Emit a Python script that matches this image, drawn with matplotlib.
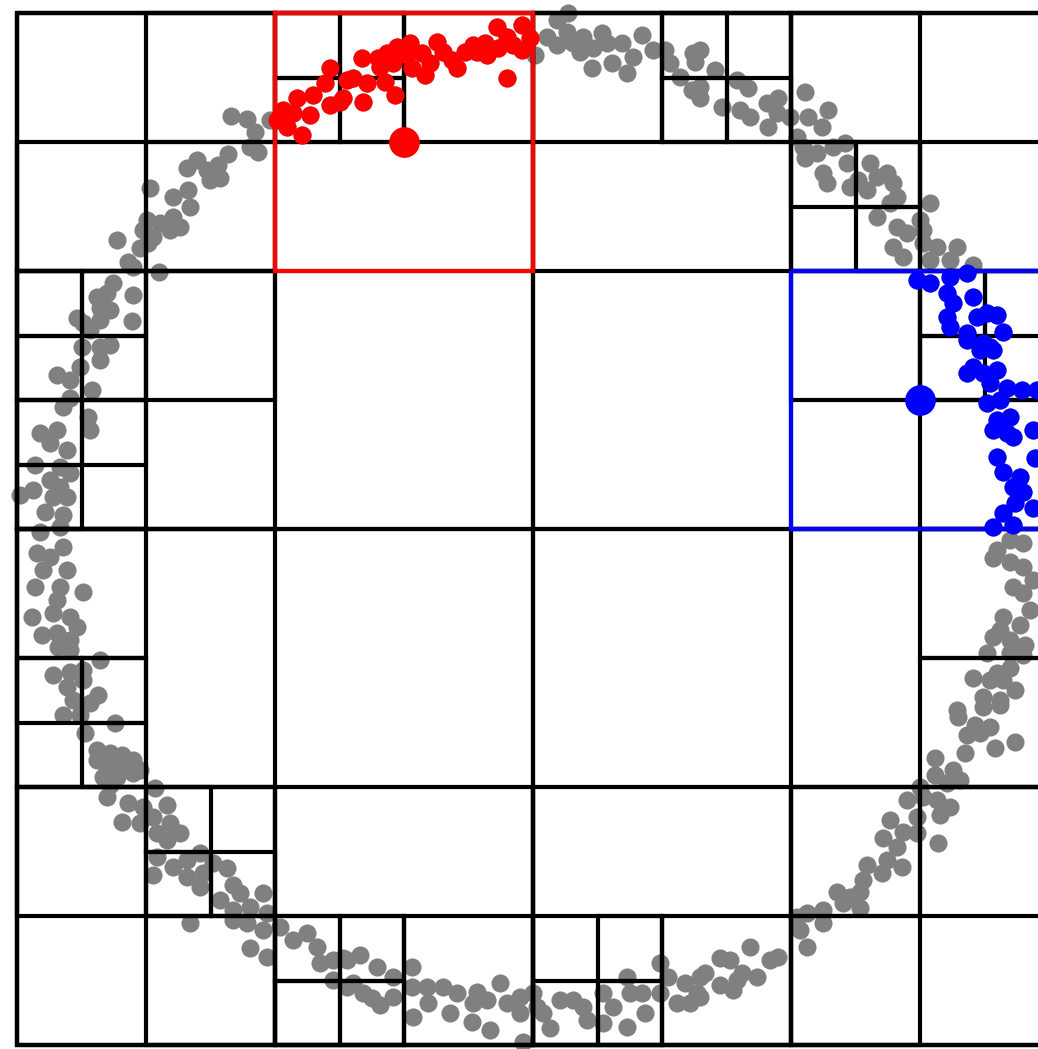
import numpy as np
import matplotlib
matplotlib.use("Agg")
import matplotlib.pyplot as plt
from matplotlib.patches import Rectangle

# side of the root square of the quadtree (y counted downwards from the top)
SIZE = 1032

# quadtree nodes that hold at least one point, as (column, row) per level
nodes_l0 = [(0, 0)]
nodes_l1 = [(0, 0), (1, 0), (0, 1), (1, 1)]
nodes_l2 = [(0, 0), (1, 0), (2, 0), (3, 0),
            (0, 1), (3, 1),
            (0, 2), (3, 2),
            (0, 3), (1, 3), (2, 3), (3, 3)]
nodes_l3 = [(1, 0), (0, 1), (1, 1),
            (2, 0), (3, 0),
            (4, 0), (5, 0),
            (6, 0), (6, 1), (7, 1),
            (0, 2), (1, 2), (0, 3),
            (6, 2), (7, 2), (7, 3),
            (0, 4), (0, 5),
            (7, 4), (7, 5),
            (0, 6), (1, 6), (1, 7),
            (2, 7), (3, 7),
            (4, 7), (5, 7),
            (6, 6), (7, 6), (6, 7)]
nodes_l4 = [(4, 0), (5, 0), (4, 1), (5, 1),
            (10, 0), (10, 1), (11, 1),
            (12, 2), (13, 2), (13, 3),
            (0, 4), (1, 4), (0, 5), (1, 5),
            (0, 6), (1, 6), (0, 7),
            (14, 4), (15, 4), (14, 5),
            (0, 10), (1, 10), (1, 11),
            (2, 12), (2, 13), (3, 13),
            (4, 14), (5, 14), (4, 15), (5, 15),
            (9, 14), (8, 15), (9, 15)]
levels = [nodes_l0, nodes_l1, nodes_l2, nodes_l3, nodes_l4]

# range queries: centre points and half width of the square window
query_centers = [(387, 129), (903, 387)]
query_colors = ["red", "blue"]
query_half = 129

# points along the noisy ring
arc_top_left = [
    (214, 103), (230, 106), (253, 107), (238, 119), (233, 134), (241, 139), (211, 141), (201, 152),
    (193, 167), (203, 165), (180, 147), (170, 155), (190, 157), (133, 175), (156, 184), (171, 177),
    (173, 194), (156, 204), (153, 217), (163, 214), (143, 210), (130, 207), (126, 217), (136, 224),
    (131, 230), (123, 235), (100, 227), (111, 249), (116, 254), (142, 259), (96, 270), (90, 280),
    (80, 284), (83, 295), (93, 297), (116, 282), (115, 308), (60, 305), (66, 310), (73, 317),
    (83, 307), (65, 334), (83, 334), (93, 332),
    (313, 55), (330, 67), (308, 70), (296, 82), (280, 85), (266, 97), (260, 107), (270, 114),
    (285, 122), (293, 102), (313, 92), (323, 89), (276, 100), (263, 104),
    (345, 45), (361, 45), (370, 40), (380, 34), (393, 30), (390, 42), (405, 40), (413, 50),
    (408, 62), (395, 55), (376, 50), (363, 54), (420, 29), (426, 39), (440, 55), (435, 47),
    (448, 39), (460, 39), (468, 30), (480, 14), (481, 35), (490, 24), (496, 32), (505, 12),
    (505, 37), (513, 25), (490, 65), (336, 65), (350, 70), (368, 69), (378, 82), (346, 89),
    (326, 85), (456, 32), (470, 42),
]
arc_top_right = [
    (551, 0), (540, 7), (530, 24), (518, 42), (540, 32), (550, 19), (556, 30), (566, 24),
    (563, 39), (576, 35), (585, 20), (590, 30), (605, 30), (575, 55), (595, 50), (610, 60),
    (616, 44), (625, 22), (636, 37), (648, 37), (653, 50), (663, 64), (675, 77), (676, 40),
    (683, 37), (678, 49), (698, 57), (683, 74), (683, 85), (705, 94), (720, 67), (731, 75),
    (723, 97), (733, 104), (750, 90), (761, 85), (751, 114), (760, 100), (773, 104), (788, 79),
    (791, 104), (811, 97), (805, 114), (780, 124), (786, 134), (788, 145), (800, 140), (806, 160),
    (810, 170), (816, 134), (828, 130), (830, 150), (833, 174), (841, 167), (853, 150), (860, 164),
    (870, 160), (876, 170), (880, 184), (873, 190), (860, 204), (850, 177), (913, 190), (880, 214),
    (890, 220), (876, 234), (886, 244), (906, 230), (920, 234), (940, 234), (933, 247), (956, 252),
    (913, 247), (903, 207), (906, 217),
]
arc_right = [
    (900, 267), (913, 270), (950, 260), (933, 264), (930, 280), (936, 290), (956, 284), (930, 304),
    (933, 314), (950, 320), (960, 304), (970, 300), (980, 302), (986, 319), (966, 330), (973, 334),
    (950, 327), (963, 337), (976, 337), (956, 354), (950, 360), (966, 360), (980, 357), (973, 370),
    (990, 375), (1005, 377), (1020, 377), (970, 390), (983, 387), (980, 407), (993, 404), (990, 420),
    (976, 417), (996, 424), (1016, 417), (980, 444), (1018, 445), (986, 459), (1003, 464), (996, 474),
    (1006, 479), (998, 490), (1016, 495), (986, 500), (976, 514), (996, 512),
    (993, 527), (1006, 530), (980, 537), (976, 545), (993, 549), (1006, 554), (1016, 567), (996, 574),
    (1006, 580), (986, 604), (983, 617), (993, 627), (976, 624), (993, 640), (970, 640), (1006, 642),
    (993, 655), (980, 660), (956, 665), (973, 667), (986, 667), (966, 684), (983, 687), (940, 697),
    (1013, 597), (1003, 612), (1008, 632), (998, 677),
]
arc_bottom_right = [
    (966, 694), (983, 692), (941, 704), (958, 712), (973, 714), (950, 722), (963, 720), (998, 729),
    (978, 735), (948, 740), (918, 745), (936, 757), (918, 762), (943, 767), (930, 770), (903, 774),
    (890, 787), (906, 784), (920, 787), (933, 794), (923, 802), (900, 804), (873, 807), (886, 819),
    (866, 825), (900, 820), (921, 830), (880, 834), (870, 847), (850, 852), (865, 860), (885, 854),
    (846, 867), (843, 879), (820, 879), (833, 884), (826, 890), (843, 895), (806, 897), (790, 900),
    (780, 904), (783, 917), (806, 910), (790, 934), (761, 944), (753, 947), (733, 934), (740, 964),
    (725, 960), (713, 947), (703, 945), (720, 967), (716, 977), (703, 972), (688, 960), (680, 980),
    (673, 990),
]
arc_bottom = [
    (326, 945), (343, 942), (360, 954), (336, 970), (346, 980), (363, 992), (355, 985), (376, 964),
    (376, 984), (395, 954), (395, 974), (396, 1004), (411, 990), (410, 974), (426, 974), (433, 1000),
    (440, 980), (455, 1009), (460, 979), (456, 990), (470, 987), (473, 1017), (483, 970), (490, 990),
    (503, 984), (503, 1000), (506, 1029), (516, 980), (520, 994), (526, 1000), (533, 1015), (543, 987),
    (556, 987), (570, 1007), (566, 994), (586, 980), (596, 994), (586, 1010), (610, 964), (613, 980),
    (610, 1014), (625, 980), (628, 1000), (643, 950), (651, 964), (643, 980), (660, 990), (668, 970),
    (683, 964), (683, 984),
]
arc_bottom_left = [
    (56, 687), (73, 690), (46, 702), (63, 702), (68, 720), (98, 710), (80, 737), (93, 740),
    (105, 742), (116, 747), (80, 747), (90, 754), (103, 754), (116, 760), (123, 757), (86, 764),
    (100, 764), (93, 772), (138, 775), (90, 784), (111, 790), (150, 792), (126, 794), (105, 809),
    (123, 810), (136, 804), (153, 810), (163, 820), (140, 820), (150, 827), (140, 844), (136, 862),
    (156, 854), (170, 847), (183, 840), (170, 864), (183, 874), (196, 850), (210, 855), (186, 860),
    (216, 872), (223, 880), (246, 880), (203, 887), (216, 897), (233, 894), (250, 900), (216, 907),
    (230, 910), (173, 910), (233, 935), (250, 944), (246, 917), (263, 914), (276, 927), (290, 920),
    (300, 934), (303, 950), (316, 947), (330, 947), (316, 967), (330, 974),
]
arc_left = [
    (83, 347), (63, 354), (40, 362), (53, 367), (75, 377), (53, 385), (46, 394), (71, 404),
    (73, 417), (23, 420), (40, 417), (33, 430), (50, 437), (18, 452), (43, 454), (53, 460),
    (33, 467), (3, 482), (16, 477), (43, 474), (50, 484), (28, 499), (46, 502), (36, 484),
    (23, 519), (43, 514), (46, 534), (20, 540), (33, 544), (26, 557), (50, 557), (18, 574),
    (43, 574), (66, 579), (40, 587), (36, 600), (53, 604), (15, 604), (60, 614), (25, 622),
    (40, 620), (53, 627), (41, 634), (53, 637), (83, 647), (36, 662), (53, 659), (66, 657),
    (50, 674), (66, 667), (81, 682),
]

pts = np.array(arc_top_left + arc_top_right + arc_right + arc_bottom_right
               + arc_bottom + arc_bottom_left + arc_left, dtype=float)

fig = plt.figure(figsize=(10.38, 10.49), dpi=100)
ax = fig.add_axes([0, 0, 1, 1])

# all points in grey first, the found ones get recoloured on top
ax.scatter(pts[:, 0], pts[:, 1], s=170, color="gray", linewidths=0, zorder=1)

# quadtree cells
for level, cells in enumerate(levels):
    side = SIZE / 2 ** level
    for col, row in cells:
        ax.add_patch(Rectangle((col * side, row * side), side, side, fill=False,
                               edgecolor="black", linewidth=3.0, zorder=2))

# query windows and the points they return
for (cx, cy), color in zip(query_centers, query_colors):
    ax.add_patch(Rectangle((cx - query_half, cy - query_half), 2 * query_half, 2 * query_half,
                           fill=False, edgecolor=color, linewidth=3.0, zorder=3))
    inside = (np.abs(pts[:, 0] - cx) <= query_half) & (np.abs(pts[:, 1] - cy) <= query_half)
    ax.scatter(pts[inside, 0], pts[inside, 1], s=170, color=color, linewidths=0, zorder=4)
    ax.scatter([cx], [cy], s=490, color=color, linewidths=0, zorder=5)

ax.set_xlim(-17, 1021)
ax.set_ylim(1036, -13)
ax.axis("off")

plt.savefig("out.png", dpi=100)
plt.close(fig)
